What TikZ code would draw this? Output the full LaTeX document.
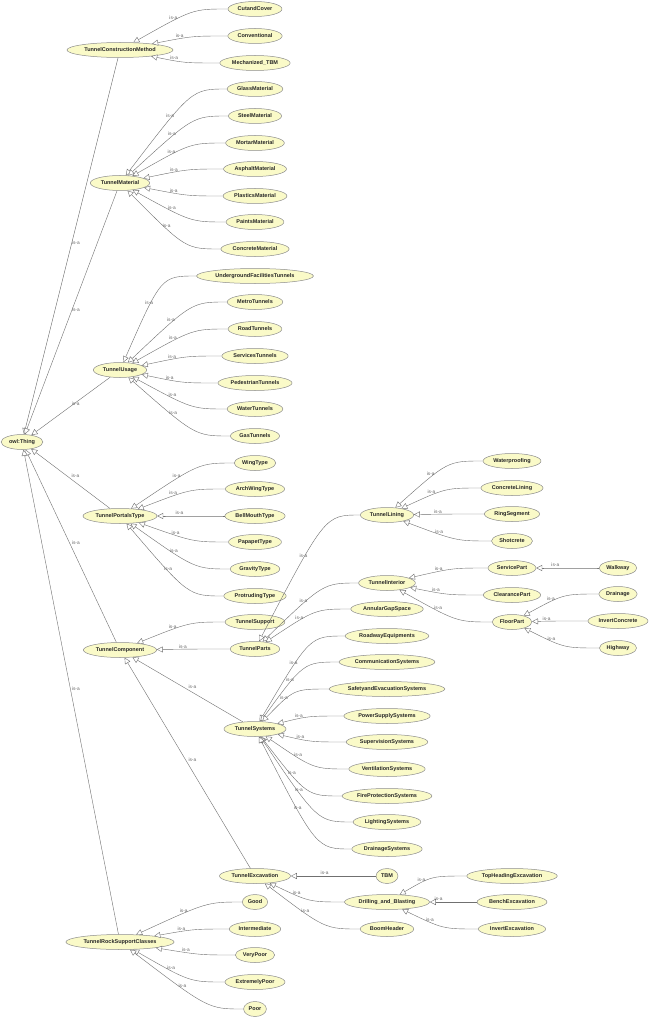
\documentclass[tikz,border=0pt]{standalone}
\usepackage{fontspec}
\setmainfont{Liberation Sans}
\usetikzlibrary{shapes.geometric,arrows.meta}
\definecolor{nodefill}{HTML}{FAFAC8}
\definecolor{edgecol}{HTML}{707070}
\tikzset{
 cls/.style={ellipse,draw=edgecol!80,fill=nodefill,line width=0.5pt,inner xsep=1.8pt,inner ysep=1.2pt,minimum height=15pt,font=\fontsize{5.5}{6}\selectfont\bfseries,text=black!85},
 isa/.style={draw=edgecol,line width=0.4pt,-{Triangle[open,length=6pt,width=6pt,fill=white]}},
 lab/.style={font=\fontsize{4.8}{5}\selectfont,text=black!60,inner sep=0.8pt}
}
\newcommand{\myN}[4]{\node[cls] (#1) at (#2,#3) {#4};}
\newcommand{\myE}[2]{\draw[isa] (#1.west) .. controls +(-35,0) .. node[lab,pos=0.7,above]{is-a} (#2);}
\newcommand{\myS}[2]{\draw[isa] (#1) -- node[lab,pos=0.5,above right]{is-a} (#2);}
\begin{document}
\begin{tikzpicture}[x=1pt,y=-1pt]
\useasboundingbox (0,0) rectangle (648,1024);
\fill[white] (0,0) rectangle (648,1024);
\myN{owl}{22}{442}{owl:Thing}
\myN{tcm}{120}{50}{TunnelConstructionMethod}
\myN{cc}{255}{9}{CutandCover}
\myN{conv}{255}{36}{Conventional}
\myN{mtbm}{255}{63}{Mechanized\_TBM}
\myN{tm}{120}{183}{TunnelMaterial}
\myN{glass}{255}{89}{GlassMaterial}
\myN{steel}{255}{116}{SteelMaterial}
\myN{mortar}{255}{143}{MortarMaterial}
\myN{asph}{255}{169}{AsphaltMaterial}
\myN{plast}{255}{196}{PlasticsMaterial}
\myN{paint}{255}{222}{PaintsMaterial}
\myN{concm}{255}{249}{ConcreteMaterial}
\myN{tu}{120}{370}{TunnelUsage}
\myN{uft}{255}{276}{UndergroundFacilitiesTunnels}
\myN{metro}{255}{302}{MetroTunnels}
\myN{road}{255}{329}{RoadTunnels}
\myN{serv}{255}{356}{ServicesTunnels}
\myN{ped}{255}{383}{PedestrianTunnels}
\myN{water}{255}{409}{WaterTunnels}
\myN{gas}{255}{436}{GasTunnels}
\myN{tpt}{120}{516}{TunnelPortalsType}
\myN{wing}{255}{463}{WingType}
\myN{arch}{255}{489}{ArchWingType}
\myN{bell}{255}{516}{BellMouthType}
\myN{papa}{255}{542}{PapapetType}
\myN{grav}{255}{569}{GravityType}
\myN{prot}{255}{596}{ProtrudingType}
\myN{tc}{120}{650}{TunnelComponent}
\myN{tsup}{255}{622}{TunnelSupport}
\myN{tparts}{255}{649}{TunnelParts}
\myN{tl}{387}{515}{TunnelLining}
\myN{wp}{512}{461}{Waterproofing}
\myN{cl}{512}{488}{ConcreteLining}
\myN{ring}{512}{514}{RingSegment}
\myN{shot}{512}{541}{Shotcrete}
\myN{ti}{387}{583}{TunnelInterior}
\myN{ags}{387}{609}{AnnularGapSpace}
\myN{sp}{512}{568}{ServicePart}
\myN{walk}{618}{568}{Walkway}
\myN{clp}{512}{595}{ClearancePart}
\myN{fp}{512}{622}{FloorPart}
\myN{drain}{618}{594}{Drainage}
\myN{inv}{618}{621}{InvertConcrete}
\myN{hw}{618}{648}{Highway}
\myN{ts}{255}{729}{TunnelSystems}
\myN{re}{387}{636}{RoadwayEquipments}
\myN{com}{387}{662}{CommunicationSystems}
\myN{saf}{387}{689}{SafetyandEvacuationSystems}
\myN{pow}{387}{716}{PowerSupplySystems}
\myN{sup}{387}{742}{SupervisionSystems}
\myN{vent}{387}{769}{VentilationSystems}
\myN{fire}{387}{796}{FireProtectionSystems}
\myN{light}{387}{822}{LightingSystems}
\myN{dsys}{387}{849}{DrainageSystems}
\myN{te}{255}{876}{TunnelExcavation}
\myN{tbm}{387}{876}{TBM}
\myN{db}{387}{902}{Drilling\_and\_Blasting}
\myN{boom}{387}{929}{BoomHeader}
\myN{top}{512}{876}{TopHeadingExcavation}
\myN{bench}{512}{902}{BenchExcavation}
\myN{invx}{512}{929}{InvertExcavation}
\myN{trsc}{120}{942}{TunnelRockSupportClasses}
\myN{good}{255}{902}{Good}
\myN{inter}{255}{929}{Intermediate}
\myN{vp}{255}{955}{VeryPoor}
\myN{ep}{255}{982}{ExtremelyPoor}
\myN{poor}{255}{1009}{Poor}
\myS{tcm}{owl}
\myS{tm}{owl}
\myS{tu}{owl}
\myS{tpt}{owl}
\myS{tc}{owl}
\myS{trsc}{owl}
\myS{ts}{tc}
\myS{te}{tc}
\myE{tsup}{tc}
\myE{tparts}{tc}
\myE{cc}{tcm}\myE{conv}{tcm}\myE{mtbm}{tcm}
\myE{glass}{tm}\myE{steel}{tm}\myE{mortar}{tm}\myE{asph}{tm}\myE{plast}{tm}\myE{paint}{tm}\myE{concm}{tm}
\myE{uft}{tu}\myE{metro}{tu}\myE{road}{tu}\myE{serv}{tu}\myE{ped}{tu}\myE{water}{tu}\myE{gas}{tu}
\myE{wing}{tpt}\myE{arch}{tpt}\myE{bell}{tpt}\myE{papa}{tpt}\myE{grav}{tpt}\myE{prot}{tpt}
\myE{tl}{tparts}\myE{ti}{tparts}\myE{ags}{tparts}
\myE{wp}{tl}\myE{cl}{tl}\myE{ring}{tl}\myE{shot}{tl}
\myE{sp}{ti}\myE{clp}{ti}\myE{fp}{ti}
\myE{walk}{sp}
\myE{drain}{fp}\myE{inv}{fp}\myE{hw}{fp}
\myE{re}{ts}\myE{com}{ts}\myE{saf}{ts}\myE{pow}{ts}\myE{sup}{ts}\myE{vent}{ts}\myE{fire}{ts}\myE{light}{ts}\myE{dsys}{ts}
\myE{tbm}{te}\myE{db}{te}\myE{boom}{te}
\myE{top}{db}\myE{bench}{db}\myE{invx}{db}
\myE{good}{trsc}\myE{inter}{trsc}\myE{vp}{trsc}\myE{ep}{trsc}\myE{poor}{trsc}
\end{tikzpicture}
\end{document}
